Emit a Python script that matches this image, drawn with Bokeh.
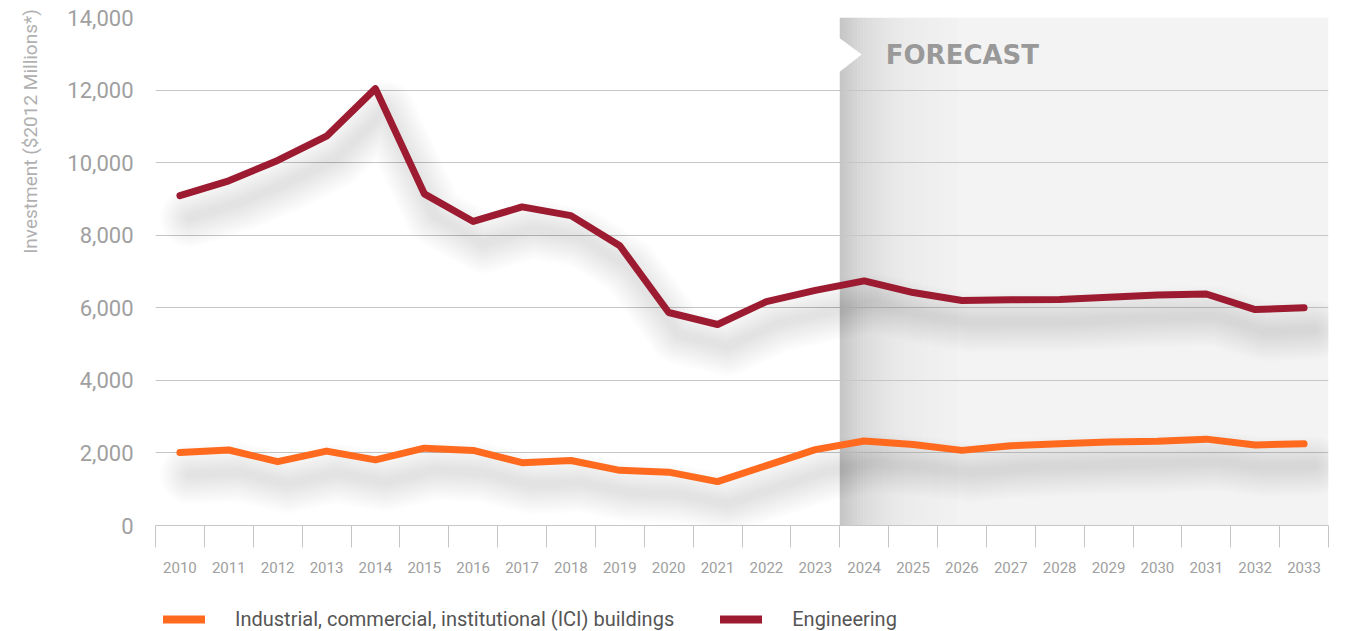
import math
from bokeh.plotting import figure
from bokeh.layouts import row, column
from bokeh.models import Range1d, FixedTicker, NumeralTickFormatter, Label, Legend, LegendItem
from bokeh.embed import file_html
from bokeh.resources import INLINE

# ---------------- data ----------------
years = [str(y) for y in range(2010, 2034)]
ici = [2010, 2080, 1760, 2050, 1810, 2130, 2070, 1730, 1790, 1520, 1470, 1210,
       1650, 2090, 2330, 2230, 2070, 2200, 2250, 2300, 2320, 2380, 2220, 2250]
engineering = [9090, 9500, 10060, 10730, 12040, 9140, 8380, 8780, 8540, 7710, 5870, 5540,
               6170, 6480, 6740, 6420, 6200, 6220, 6230, 6290, 6350, 6380, 5950, 6000]
y_ticks = [0, 2000, 4000, 6000, 8000, 10000, 12000, 14000]
forecast_start = "2024"
series_names = ["Industrial, commercial, institutional (ICI) buildings", "Engineering"]
y_title = "Investment ($2012 Millions*)"

ORANGE = "#FF6A1F"
RED = "#9C1B31"

W, H = 1352, 631
TW = 45                      # width of the strip holding the y title
MAIN_H = 580                 # main chart height (frame + x axis)
LEG_H = H - MAIN_H
L, R, T, B = 155 - TW, 24, 17, 55
fw, fh = W - TW - L - R, MAIN_H - T - B
n = len(years)
xs = list(range(n))
px_x = fw / n
px_y = fh / 14000.0

p = figure(width=W - TW, height=MAIN_H, output_backend="svg", toolbar_location=None,
           x_range=Range1d(-0.5, n - 0.5), y_range=Range1d(0, 14000),
           min_border_left=L, min_border_right=R, min_border_top=T, min_border_bottom=B)
p.outline_line_color = None
p.background_fill_color = "white"
p.border_fill_color = "white"

# forecast band with gradient
fi = years.index(forecast_start)
x0 = fi - 0.5
steps = 40
span = 2.4
for k in range(steps):
    a = x0 + span * k / steps
    b = x0 + span * (k + 1) / steps
    d = (a - x0) * px_x
    c = int(round(243 - 45 * math.exp(-d / 38.0)))
    p.quad(left=a, right=b + 0.01, bottom=0, top=14000, fill_color=(c, c, c),
           line_color=None, level="image")
p.quad(left=x0 + span, right=n - 0.5, bottom=0, top=14000, fill_color=(243, 243, 243),
       line_color=None, level="image")

def yv(pix):
    return (T + fh - pix) / px_y

# white chevron notch
p.patch([x0 - 0.02, x0 + 22 / px_x, x0 - 0.02], [yv(37), yv(54), yv(72)],
        fill_color="white", line_color=None)

p.add_layout(Label(x=x0 + 46 / px_x, y=yv(54), text="FORECAST", text_font="DejaVu Sans",
                   text_font_style="bold", text_font_size="26px", text_color="#999999",
                   text_baseline="middle", text_align="left"))

# grid
p.xgrid.grid_line_color = None
p.ygrid.grid_line_color = "#c6c6c6"
p.ygrid.grid_line_width = 1
p.ygrid.ticker = FixedTicker(ticks=y_ticks)

# soft drop shadows (stacked translucent strokes imitate a blur)
dx = 10 / px_x
dy = -22 / px_y
for vals in (ici, engineering):
    sx = [x + dx for x in xs]
    sy = [v + dy for v in vals]
    for w in range(60, 4, -4):
        p.line(sx, sy, line_color="black", line_alpha=0.009, line_width=w,
               line_join="round", line_cap="round")

p.line(xs, ici, line_color=ORANGE, line_width=7, line_join="round", line_cap="round")
p.line(xs, engineering, line_color=RED, line_width=7, line_join="round", line_cap="round")

# axes
ya = p.yaxis[0]
ya.ticker = FixedTicker(ticks=y_ticks)
ya.formatter = NumeralTickFormatter(format="0,0")
ya.axis_line_color = None
ya.major_tick_line_color = None
ya.minor_tick_line_color = None
ya.major_tick_out = 0
ya.major_label_standoff = 22
ya.major_label_text_font = "Roboto"
ya.major_label_text_font_size = "22px"
ya.major_label_text_color = "#a0a0a0"

xa = p.xaxis[0]
xa.ticker = FixedTicker(ticks=xs, minor_ticks=[i - 0.5 for i in range(n + 1)])
xa.major_label_overrides = {i: y for i, y in enumerate(years)}
xa.axis_line_color = "#c6c6c6"
xa.major_tick_line_color = None
xa.major_tick_out = 22
xa.minor_tick_line_color = "#c6c6c6"
xa.minor_tick_out = 22
xa.minor_tick_in = 0
xa.major_label_standoff = 14
xa.major_label_text_font = "Roboto"
xa.major_label_text_font_size = "15px"
xa.major_label_text_color = "#a0a0a0"

# ---- y title strip ----
pt = figure(width=TW, height=H, output_backend="svg", toolbar_location=None,
            x_range=Range1d(0, TW), y_range=Range1d(0, H),
            x_axis_location=None, y_axis_location=None,
            min_border_left=0, min_border_right=0, min_border_top=0, min_border_bottom=0)
pt.outline_line_color = None
pt.grid.visible = False
pt.add_layout(Label(x=30, y=H - 131, text=y_title, angle=math.pi / 2,
                    text_font="Roboto", text_font_size="19px", text_color="#b0b0b0",
                    text_align="center", text_baseline="middle"))

# ---- legend strip ----
pl = figure(width=W - TW, height=LEG_H, output_backend="svg", toolbar_location=None,
            x_range=Range1d(0, 1), y_range=Range1d(0, 1),
            x_axis_location=None, y_axis_location=None,
            min_border_left=0, min_border_right=0, min_border_top=0, min_border_bottom=0)
pl.outline_line_color = None
pl.grid.visible = False
l1 = pl.line([-5, -4], [-5, -5], line_color=ORANGE, line_width=8, line_cap="round")
l2 = pl.line([-5, -4], [-5, -5], line_color=RED, line_width=8, line_cap="round")
legend = Legend(items=[LegendItem(label=series_names[0], renderers=[l1]),
                       LegendItem(label=series_names[1], renderers=[l2])],
                orientation="horizontal", location=(8, 0),
                glyph_width=42, glyph_height=20, label_height=20, label_standoff=30,
                spacing=46, padding=0, margin=0,
                label_text_font="Roboto", label_text_font_size="20px",
                label_text_color="#555555", border_line_color=None,
                background_fill_alpha=0)
pl.add_layout(legend, "center")

layout = row(pt, column(p, pl, spacing=0), spacing=0)
open("out.html", "w").write(file_html(layout, INLINE))
